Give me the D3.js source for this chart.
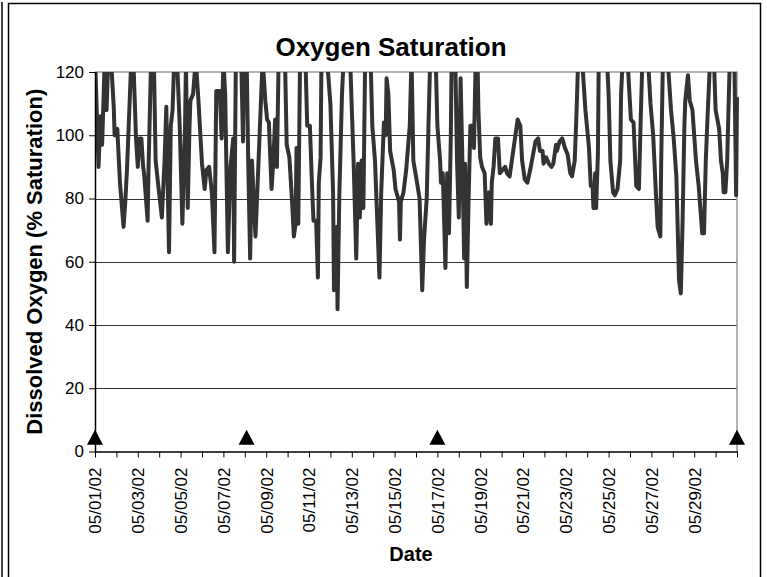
<!DOCTYPE html>
<html>
<head>
<meta charset="utf-8">
<script src="https://cdn.jsdelivr.net/npm/d3@7/dist/d3.min.js"></script>
<style>
  body { margin: 0; background: #fff; }
  svg { display: block; }
  text { font-family: "Liberation Sans", Arial, sans-serif; fill: #000; }
</style>
</head>
<body>
<div id="chart"></div>
<script>
// Dissolved oxygen, % saturation.
// hours = hours after 05/01/02 00:00 ; values above 120 run off the top of the plot
const hours = [
  0, 4, 6, 8, 11, 13, 15, 18, 21, 22, 25, 28, 32, 34, 36, 41, 43, 46, 48, 50,
  52, 54, 55, 59, 60, 63, 66, 68, 71, 75, 78, 80, 81, 83, 85, 87, 89, 92, 95, 98,
  101, 102, 104, 106, 107, 110, 113, 116, 120, 123, 125, 128, 131, 134, 136, 140, 142, 144, 146, 149,
  152, 155, 156, 158, 164, 166, 167, 170, 172, 174, 176, 180, 183, 188, 191, 193, 195, 198, 200, 202,
  204, 206, 213, 215, 218, 221, 223, 225, 226, 228, 230, 236, 238, 241, 243, 245, 248, 250, 251, 253,
  254, 260, 264, 267, 268, 271, 272, 274, 277, 279, 286, 290, 293, 295, 297, 299, 301, 303, 309, 311,
  314, 319, 321, 324, 326, 327, 329, 331, 335, 337, 341, 342, 343, 346, 349, 353, 355, 357, 360, 364,
  367, 369, 372, 374, 376, 382, 384, 387, 388, 390, 391, 393, 395, 397, 399, 400, 404, 406, 408, 410,
  412, 414, 415, 417, 419, 421, 423, 425, 427, 429, 430, 432, 434, 437, 439, 442, 444, 445, 447, 449,
  452, 454, 457, 460, 462, 465, 468, 471, 474, 477, 479, 482, 485, 488, 490, 494, 497, 499, 502, 503,
  506, 509, 512, 514, 517, 518, 521, 524, 527, 530, 533, 535, 538, 540, 542, 546, 550, 554, 556, 558,
  559, 561, 562, 564, 565, 574, 576, 578, 581, 583, 586, 589, 590, 592, 597, 601, 604, 607, 610, 612,
  614, 620, 623, 626, 629, 631, 634, 635, 637, 642, 646, 649, 652, 655, 657, 659, 661, 662, 665, 667,
  670, 674, 677, 681, 683, 685, 687, 690, 694, 696, 700, 702, 704, 705, 707, 709, 712, 717, 719, 720
];
const doSat = [
  125, 90, 106, 97, 125, 108, 125, 124, 109, 100, 102, 85, 71, 79, 90, 126, 124, 99, 90, 99,
  99, 90, 88, 73, 89, 125, 124, 92, 84, 74, 92, 109, 92, 63, 103, 108, 125, 124, 103, 72,
  103, 123, 77, 103, 111, 113, 124, 111, 91, 83, 89, 90, 82, 63, 114, 114, 99, 124, 113, 63,
  90, 99, 60, 125, 124, 98, 124, 125, 89, 61, 92, 68, 89, 124, 111, 105, 104, 83, 92, 105,
  90, 125, 125, 97, 93, 79, 68, 72, 96, 72, 125, 124, 103, 103, 87, 73, 73, 55, 85, 93,
  125, 125, 110, 82, 51, 71, 45, 81, 113, 125, 125, 92, 61, 91, 74, 92, 77, 125, 125, 103,
  92, 55, 82, 104, 100, 118, 113, 95, 89, 83, 79, 67, 79, 82, 89, 103, 125, 92, 87, 80,
  51, 67, 80, 103, 125, 125, 103, 92, 85, 88, 79, 58, 88, 69, 99, 125, 125, 92, 74, 118,
  92, 61, 91, 52, 80, 103, 103, 96, 125, 124, 108, 93, 90, 88, 72, 82, 72, 85, 90, 99,
  99, 88, 89, 90, 88, 87, 93, 99, 105, 103, 92, 86, 85, 89, 92, 98, 99, 95, 95, 91,
  93, 91, 90, 91, 97, 95, 98, 99, 96, 94, 88, 87, 92, 107, 125, 125, 108, 96, 84, 84,
  77, 88, 77, 94, 125, 125, 113, 92, 82, 81, 83, 92, 113, 125, 125, 105, 104, 84, 83, 105,
  125, 125, 110, 100, 82, 71, 68, 92, 125, 125, 108, 99, 87, 54, 50, 73, 103, 111, 119, 111,
  108, 92, 84, 69, 69, 92, 106, 125, 125, 108, 102, 92, 88, 82, 82, 92, 125, 125, 81, 112
];
// triangle markers (second series)
const markerHours = [0, 170, 384, 720];
const markerValues = [4.5, 4.5, 4.5, 4.5];
const yTicks = [0, 20, 40, 60, 80, 100, 120];
const startDate = new Date(2002, 4, 1);
const endDate = new Date(2002, 4, 31);

const W = 767, H = 577;
const plot = { left: 95, top: 72, right: 737, bottom: 451.5 };

const svg = d3.select("#chart").append("svg")
  .attr("width", W)
  .attr("height", H);

// outer frame lines
const frame = svg.append("g").attr("stroke", "#000").attr("fill", "none");
frame.append("line").attr("x1", 2).attr("x2", 2).attr("y1", 2).attr("y2", H).attr("stroke-width", 1.5);
frame.append("path").attr("d", `M8.5,${H} V3.5 H760.5 V${H}`).attr("stroke-width", 1.5);

const toDate = (h) => d3.timeHour.offset(startDate, h);

const x = d3.scaleTime().domain([startDate, endDate]).range([plot.left, plot.right]);
const y = d3.scaleLinear().domain([0, 120]).range([plot.bottom, plot.top]);

// gridlines
svg.append("g")
  .selectAll("line")
  .data(yTicks.filter((v) => v > 0 && v < 120))
  .join("line")
  .attr("x1", plot.left).attr("x2", plot.right)
  .attr("y1", (d) => Math.round(y(d)) + 0.5).attr("y2", (d) => Math.round(y(d)) + 0.5)
  .attr("stroke", "#333").attr("stroke-width", 1);

// plot border (top and right)
svg.append("path")
  .attr("d", `M${plot.left},${y(120)} H${plot.right} V${plot.bottom}`)
  .attr("fill", "none").attr("stroke", "#999").attr("stroke-width", 1.5);

// clip for the data line
svg.append("clipPath").attr("id", "plotClip")
  .append("rect")
  .attr("x", plot.left).attr("y", plot.top)
  .attr("width", plot.right - plot.left + 2).attr("height", plot.bottom - plot.top);

const line = d3.line()
  .x((d, i) => x(toDate(hours[i])))
  .y((d) => y(d));

svg.append("path")
  .datum(doSat)
  .attr("clip-path", "url(#plotClip)")
  .attr("d", line)
  .attr("fill", "none")
  .attr("stroke", "#333")
  .attr("stroke-width", 4)
  .attr("stroke-linejoin", "round");

// y axis
const yAxis = svg.append("g")
  .attr("transform", `translate(${plot.left},0)`)
  .call(d3.axisLeft(y).tickValues(yTicks).tickSize(6).tickPadding(5).tickSizeOuter(0));
yAxis.select(".domain").attr("stroke", "#000").attr("stroke-width", 1.5);
yAxis.selectAll(".tick line").attr("stroke", "#000");
yAxis.selectAll(".tick text").style("font-size", "17px");

// x axis
const fmt = d3.timeFormat("%m/%d/%y");
const xAxis = svg.append("g")
  .attr("transform", `translate(0,${plot.bottom})`)
  .call(d3.axisBottom(x)
    .ticks(d3.timeDay.every(1))
    .tickSize(6)
    .tickSizeOuter(0)
    .tickFormat((d) => (d.getDate() % 2 === 1 && d.getDate() < 31 ? fmt(d) : "")));
xAxis.select(".domain").attr("stroke", "#000").attr("stroke-width", 1.5);
xAxis.selectAll(".tick line").attr("stroke", "#000");
xAxis.selectAll(".tick text")
  .attr("transform", "rotate(-90)")
  .attr("x", -16)
  .attr("y", 0)
  .attr("dy", "0.35em")
  .style("text-anchor", "end")
  .style("font-size", "17px");

// triangle markers, box centred on the point
const tri = "M0,-7.5L8,7.5L-8,7.5Z";
svg.append("g")
  .selectAll("path")
  .data(markerValues)
  .join("path")
  .attr("transform", (d, i) => `translate(${x(toDate(markerHours[i]))},${y(d)})`)
  .attr("d", tri)
  .attr("fill", "#000");

// titles
svg.append("text")
  .attr("x", 391).attr("y", 56)
  .attr("text-anchor", "middle")
  .style("font-size", "26px").style("font-weight", "bold")
  .text("Oxygen Saturation");

svg.append("text")
  .attr("x", 411).attr("y", 561)
  .attr("text-anchor", "middle")
  .style("font-size", "20px").style("font-weight", "bold")
  .text("Date");

svg.append("text")
  .attr("transform", `translate(42,${(plot.top + plot.bottom) / 2}) rotate(-90)`)
  .attr("text-anchor", "middle")
  .style("font-size", "22px").style("font-weight", "bold")
  .text("Dissolved Oxygen (% Saturation)");
</script>
</body>
</html>
